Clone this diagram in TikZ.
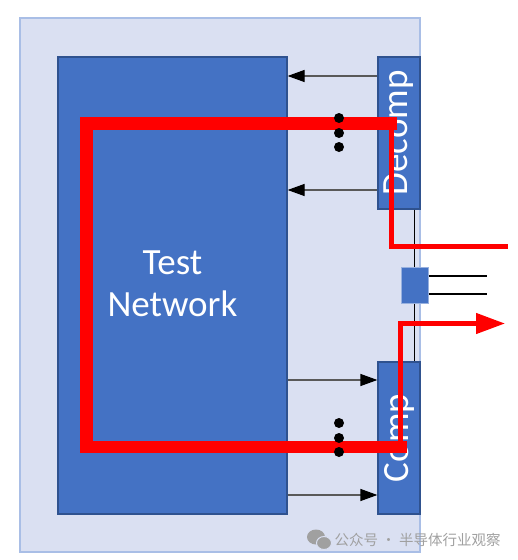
\documentclass[tikz,border=0pt]{standalone}
\usepackage{fontspec}
\setmainfont{Carlito}
\newfontfamily\cjk{Noto Sans CJK SC}
\usetikzlibrary{arrows.meta}
\definecolor{panelfill}{HTML}{DAE0F2}
\definecolor{paneledge}{HTML}{A9BEE6}
\definecolor{boxfill}{HTML}{4472C4}
\definecolor{boxedge}{HTML}{2F528F}
\definecolor{markgray}{HTML}{A0A0A0}

\begin{document}
\begin{tikzpicture}[x=1pt,y=-1pt,
        block/.style={draw=boxedge,fill=boxfill,line width=1.2pt,inner sep=0pt},
        blocktext/.style={text=white,font=\fontsize{37}{42}\selectfont,align=center},
        bus/.style={draw=black!65,line width=1.2pt,-{Triangle[length=17pt,width=12pt,color=black]}},
        wire/.style={draw=black,line width=1.6pt},
        scanthick/.style={draw=red,line width=12.5pt},
        scanthin/.style={draw=red,line width=4.5pt}]
            \useasboundingbox (0,0) rectangle (518,560);

            % chip and blocks
            \node[draw=paneledge,fill=panelfill,line width=1.5pt,inner sep=0pt,
                minimum width=400pt,minimum height=534pt] at (220,285) (chip) {};
            \node[block,minimum width=229pt,minimum height=457pt] at (172.5,285.5) (net) {};
            \node[blocktext] at (172.5,284) (nettxt) {Test\\Network};
            \node[block,minimum width=42pt,minimum height=152pt] at (399,133) (decomp) {};
            \node[block,minimum width=42pt,minimum height=152pt] at (399,438) (comp) {};
            \node[blocktext,rotate=90] at (decomp) (decomptxt) {Decomp};
            \node[blocktext,rotate=90] at (comp) (comptxt) {Comp};

            % channels
            \draw[bus] (decomp.west |- 0,76) -- (net.east |- 0,76);
            \draw[bus] (decomp.west |- 0,190) -- (net.east |- 0,190);
            \draw[bus] (net.east |- 0,380) -- (comp.west |- 0,380);
            \draw[bus] (net.east |- 0,495) -- (comp.west |- 0,495);

            % tester pins
            \node[draw=boxfill!55!white,fill=boxfill,line width=1pt,inner sep=0pt,
                minimum width=27pt,minimum height=36pt] at (414.5,285) (pad) {};
            \draw[wire] (decomp.south -| pad) -- (pad.north);
            \draw[wire] (pad.south) -- (comp.north -| pad);
            \coordinate (lane1) at (487,276);
            \coordinate (lane2) at (487,294);
            \draw[wire] (pad.east |- lane1) -- (lane1);
            \draw[wire] (pad.east |- lane2) -- (lane2);

            % scan path
            \coordinate (sa) at (397,123.5);
            \coordinate (sb) at (86.5,123.5);
            \coordinate (sc) at (86.5,447);
            \coordinate (sd) at (407,447);
            \coordinate (inend) at (508,246.5);
            \coordinate (outend) at (505,323.5);
            \draw[scanthick] (sa) -- (sb) -- (sc) -- (sd);
            \draw[scanthin] (391.5,123.5) |- (inend);
            \draw[scanthin,-{Triangle[length=29pt,width=20pt]}] (400.5,447) |- (outend);

            \foreach \y in {118,133,147,423,438,452}
                \fill[black] (339,\y) circle(5pt);

            % watermark
            \fill[markgray] (316,537) ellipse (9pt and 7.5pt);
            \filldraw[fill=markgray,draw=panelfill,line width=1pt] (324,543) ellipse (7.5pt and 6.5pt);
            \node[anchor=west,text=markgray,font=\cjk\fontsize{14.5}{15}\selectfont] at (331,540) (mark) {公众号 · 半导体行业观察};
        \end{tikzpicture}
\end{document}
